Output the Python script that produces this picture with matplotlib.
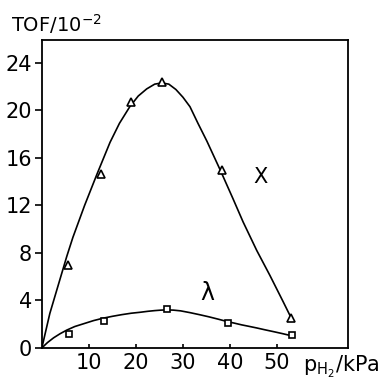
import matplotlib
matplotlib.use('agg')
import matplotlib.pyplot as plt

# measured points (triangles: series X, squares: series lambda)
tri_x = [5.6, 12.6, 18.9, 25.5, 38.3, 52.9]
tri_y = [7.0, 14.6, 20.7, 22.4, 15.0, 2.5]
sq_x = [5.8, 13.3, 26.6, 39.5, 53.3]
sq_y = [1.2, 2.3, 3.3, 2.1, 1.1]

# hand-drawn curves
curve_x_x = [0, 1.7, 3.8, 5.3, 6.6, 9.1, 11.7, 14.5, 16.5, 18.7, 20.5, 22.3,
             24.0, 25.5, 27.0, 28.5, 30.0, 31.5, 33.2, 35.1, 37.9, 40.6, 42.8,
             45.7, 48.5, 51.3, 52.8]
curve_x_y = [0, 2.9, 5.7, 7.7, 9.3, 12.0, 14.6, 17.3, 18.9, 20.3, 21.2, 21.8,
             22.2, 22.3, 22.2, 21.75, 21.1, 20.3, 18.9, 17.4, 15.0, 12.6, 10.6,
             8.2, 6.1, 3.9, 2.7]
curve_l_x = [0, 1.2, 2.5, 3.9, 5.3, 7, 9, 11, 13, 15, 17, 19, 20.9, 22.5, 24,
             25.3, 26.6, 28, 29.5, 31.5, 33.5, 35.5, 37.5, 39.4, 41, 42.5, 44,
             45.7, 47.5, 49.5, 51.2, 52.8]
curve_l_y = [0, 0.45, 0.85, 1.2, 1.5, 1.8, 2.05, 2.3, 2.5, 2.66, 2.8, 2.92, 3.0,
             3.08, 3.14, 3.18, 3.2, 3.18, 3.12, 2.97, 2.8, 2.62, 2.42, 2.22,
             2.08, 1.94, 1.82, 1.68, 1.52, 1.35, 1.2, 1.05]

x_ticks = [10, 20, 30, 40, 50]
y_ticks = [0, 4, 8, 12, 16, 20, 24]

plt.rcParams['font.family'] = ['DejaVu Sans']

fig = plt.figure(figsize=(3.91, 3.79), dpi=100)
ax = fig.add_axes([0.107, 0.082, 0.783, 0.812])

ax.plot(curve_x_x, curve_x_y, color='black', lw=1.2)
ax.plot(curve_l_x, curve_l_y, color='black', lw=1.2)
ax.plot(tri_x, tri_y, ls='none', marker='^', ms=6, mfc='white', mec='black', mew=1.2)
ax.plot(sq_x, sq_y, ls='none', marker='s', ms=4.5, mfc='white', mec='black', mew=1.2)

ax.set_xlim(0, 65.1)
ax.set_ylim(0, 25.9)
ax.set_xticks(x_ticks)
ax.set_yticks(y_ticks)
ax.tick_params(axis='y', direction='out', length=5, width=1.2, labelsize=15, pad=2)
ax.tick_params(axis='x', direction='in', length=3, width=1.2, labelsize=15, pad=4)
for s in ax.spines.values():
    s.set_linewidth(1.3)

ax.text(46.4, 14.4, 'X', fontsize=15, ha='center', va='center')
ax.text(35.1, 4.6, 'λ', fontsize=17, ha='center', va='center')

fig.text(0.028, 0.915, r'TOF/10$^{\mathregular{-2}}$', fontsize=14, ha='left', va='baseline')
fig.text(0.775, 0.02, r'$\mathregular{p_{H_2}}$/kPa', fontsize=15, ha='left', va='baseline')

fig.savefig('out.png', dpi=100)
plt.close()
